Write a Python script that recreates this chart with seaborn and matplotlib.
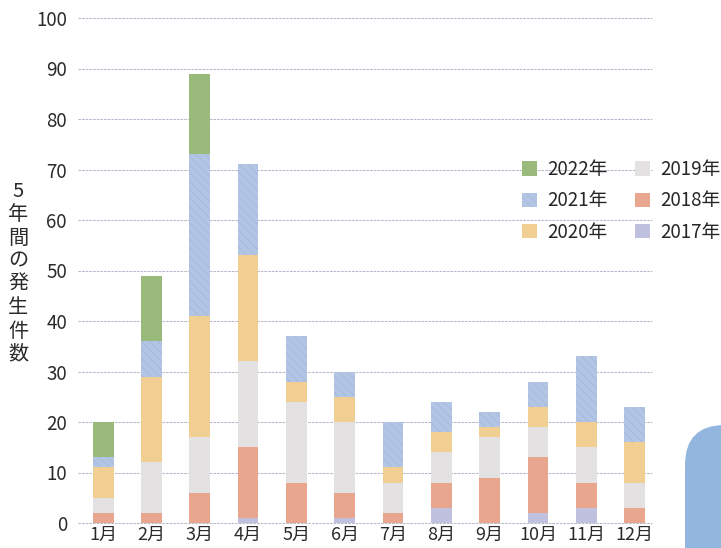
import numpy as np
import pandas as pd
import matplotlib
matplotlib.use("Agg")
import matplotlib.pyplot as plt
from matplotlib.patches import FancyBboxPatch, Patch
import seaborn as sns

# Monthly incident counts per year (stacked bottom -> top: 2017 ... 2022)
months = ["1月", "2月", "3月", "4月", "5月", "6月", "7月", "8月", "9月", "10月", "11月", "12月"]
years = ["2017年", "2018年", "2019年", "2020年", "2021年", "2022年"]
c2017 = [0, 0, 0, 1, 0, 1, 0, 3, 0, 2, 3, 0]
c2018 = [2, 2, 6, 14, 8, 5, 2, 5, 9, 11, 5, 3]
c2019 = [3, 10, 11, 17, 16, 14, 6, 6, 8, 6, 7, 5]
c2020 = [6, 17, 24, 21, 4, 5, 3, 4, 2, 4, 5, 8]
c2021 = [2, 7, 32, 18, 9, 5, 9, 6, 3, 5, 13, 7]
c2022 = [7, 13, 16, 0, 0, 0, 0, 0, 0, 0, 0, 0]
yticks = [0, 10, 20, 30, 40, 50, 60, 70, 80, 90, 100]
ylabel = "5\n年\n間\nの\n発\n生\n件\n数"

series = [c2017, c2018, c2019, c2020, c2021, c2022]
colors = ["#c0c0df", "#e9a68f", "#e3e1e1", "#f1cf93", "#b3c5e5", "#9aba7b"]
hatches = [None, None, None, None, "\\\\\\\\", None]
hatch_edge = ["none", "none", "none", "none", "#a2b6dc", "none"]

sns.set_theme(style="white")
plt.rcParams["font.family"] = ["Noto Sans CJK JP", "DejaVu Sans"]
plt.rcParams["hatch.linewidth"] = 0.5

fig = plt.figure(figsize=(7.21, 5.48), dpi=100)
fig.patch.set_facecolor("white")
ax = fig.add_axes([78 / 721, 25 / 548, 574 / 721, 505 / 548])

df = pd.DataFrame({"month": months})
bottom = np.zeros(len(months))
for year, vals, col, h, ec in zip(years, series, colors, hatches, hatch_edge):
    df[year] = vals
    kws = dict(bottom=bottom.copy(), edgecolor=ec, linewidth=0)
    if h:
        kws["hatch"] = h
    sns.barplot(data=df, x="month", y=year, order=months, color=col,
                saturation=1, width=0.43, ax=ax, zorder=3, **kws)
    bottom = bottom + np.array(vals)

ax.set_ylim(0, 100)
ax.set_xlim(-0.52, 11.36)
ax.set_yticks(yticks)
ax.set_yticklabels([str(v) for v in yticks])
ax.set_xlabel("")
ax.set_ylabel("")
for s in ax.spines.values():
    s.set_visible(False)
ax.grid(False)
for v in yticks:
    ax.axhline(v, color="#b6b9cb", lw=0.75, ls=(0, (2.5, 1)), zorder=1, clip_on=False)
ax.tick_params(axis="y", length=0, pad=8, labelsize=13.5, labelcolor="#2b2b2b")
ax.tick_params(axis="x", length=0, pad=2, labelsize=13, labelcolor="#2b2b2b")

fig.text(0.025, 0.502, ylabel, ha="center", va="center", fontsize=14.5,
         color="#2b2b2b", linespacing=1.14)

# legend: first column 2022/2021/2020, second column 2019/2018/2017
order = [5, 4, 3, 2, 1, 0]
handles = [Patch(facecolor=colors[i], edgecolor=hatch_edge[i] if hatches[i] else "none",
                 hatch=hatches[i], linewidth=0) for i in order]
labels = [years[i] for i in order]
fig.legend(handles, labels, ncol=2, frameon=False, loc="upper left",
           bbox_to_anchor=(522 / 721, 1 - 159 / 548), fontsize=13.5,
           handlelength=0.8, handleheight=0.8, handletextpad=0.55,
           labelspacing=0.55, columnspacing=1.45, borderpad=0, borderaxespad=0)

# decorative rounded panel at the lower right
deco = FancyBboxPatch((725, -80), 120, 80 + 548 - 425 - 40,
                      boxstyle="round,pad=40,rounding_size=40",
                      transform=None, facecolor="#93b6de", edgecolor="none")
fig.patches.append(deco)

fig.savefig("out.png", dpi=100)
